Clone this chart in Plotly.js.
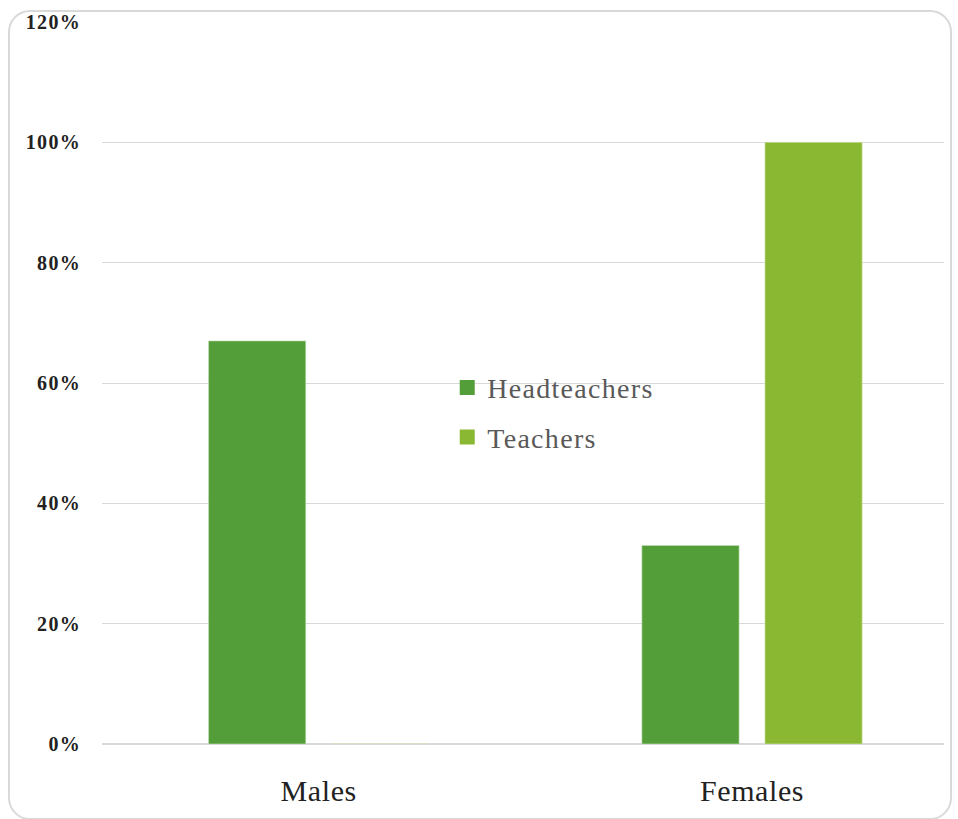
<!DOCTYPE html>
<html>
<head>
<meta charset="utf-8">
<script src="https://cdn.plot.ly/plotly-3.0.1.min.js"></script>
<style>
  html, body { margin: 0; padding: 0; background: #ffffff; }
  #wrap { position: relative; width: 958px; height: 819px; overflow: hidden; }
  #chart { position: absolute; left: 0; top: 0; width: 958px; height: 819px; }
  #frame {
    position: absolute; left: 8px; top: 10px; width: 940px; height: 806px;
    border: 2px solid #d9d9d9; border-radius: 22px; pointer-events: none;
  }
  #chart .ytick text { letter-spacing: 1.3px; }
  #chart .xtick text { letter-spacing: 0.6px; }
  #chart .legendtext { letter-spacing: 1.3px; }
  #chart .legend .scrollbox { clip-path: none !important; }
  /* slightly larger legend swatches */
  #chart .legend .traces .legendpoints path { stroke-width: 3px !important; }
  #chart .legend .groups:nth-of-type(1) .legendpoints path { stroke: #549E39 !important; }
  #chart .legend .groups:nth-of-type(2) .legendpoints path { stroke: #8AB833 !important; }
</style>
</head>
<body>
<div id="wrap">
  <div id="chart"></div>
  <div id="frame"></div>
</div>
<script>
// Share of staff by gender
const categories = ['Males', 'Females'];
const headteachers = [0.67, 0.33];
const teachers = [0.0, 1.0];
const seriesNames = ['Headteachers', 'Teachers'];
const yTicks = [0, 0.2, 0.4, 0.6, 0.8, 1.0, 1.2];
const yTickLabels = ['0%', '20%', '40%', '60%', '80%', '100%', '120%'];

const traces = [
  {
    type: 'bar', name: seriesNames[0], x: categories, y: headteachers,
    legendgroup: 'g1',
    marker: { color: '#549E39', line: { color: '#c8e0bd', width: 0.6 } },
    hoverinfo: 'skip'
  },
  {
    type: 'bar', name: seriesNames[1], x: categories, y: teachers,
    legendgroup: 'g2',
    marker: { color: '#8AB833', line: { color: '#d6e8b5', width: 0.6 } },
    hoverinfo: 'skip'
  }
];

const layout = {
  width: 958, height: 819,
  margin: { l: 102, r: 14, t: 22, b: 75 },
  paper_bgcolor: '#ffffff', plot_bgcolor: '#ffffff',
  barmode: 'group', bargap: 0.432, bargroupgap: 0.21,
  showlegend: true,
  legend: {
    x: 0.41, y: 0.528, xanchor: 'left', yanchor: 'top',
    bgcolor: 'rgba(0,0,0,0)',
    font: { family: 'Liberation Serif, serif', size: 28, color: '#595959' },
    traceorder: 'grouped', tracegroupgap: 10, itemwidth: 30
  },
  xaxis: {
    type: 'category', range: [-0.5, 1.443],
    showgrid: false, zeroline: false, showline: false,
    ticks: 'outside', ticklen: 20, tickcolor: 'rgba(0,0,0,0)',
    tickfont: { family: 'Liberation Serif, serif', size: 30, color: '#222222' }
  },
  yaxis: {
    range: [0, 1.2], tickvals: yTicks, ticktext: yTickLabels,
    showgrid: true, gridcolor: '#d9d9d9', gridwidth: 1,
    zeroline: true, zerolinecolor: '#d9d9d9', zerolinewidth: 1.5,
    showline: false,
    ticks: 'outside', ticklen: 16, tickcolor: 'rgba(0,0,0,0)',
    tickfont: { family: 'Liberation Serif, serif', size: 20, color: '#222222', weight: 'bold' }
  }
};

Plotly.newPlot('chart', traces, layout, { displayModeBar: false, staticPlot: true });
</script>
</body>
</html>
